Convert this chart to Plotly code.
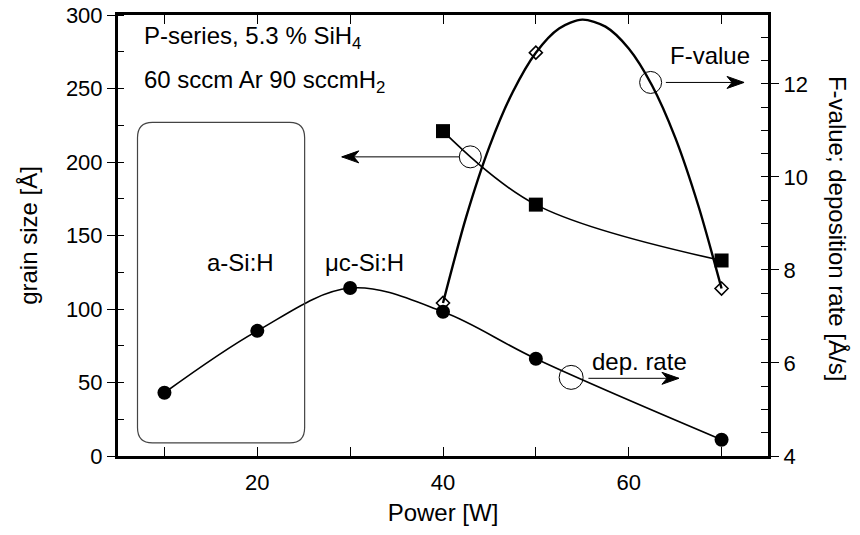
import plotly.graph_objects as go

# ---- data ----
power_dep = [10, 20, 30, 40, 50, 70]
dep_rate = [5.36, 6.69, 7.61, 7.10, 6.09, 4.35]          # right axis (Å/s)

power_grain = [40, 50, 70]
grain_size = [221, 171, 133]                              # left axis (Å)

power_f = [40, 50, 70]
f_value = [7.29, 12.67, 7.60]                             # right axis

# smooth F-value guide curve
power_f_curve = [40, 42.5, 45, 47.5, 50, 52.5, 55, 57.5, 60, 62.5, 65, 67.5, 70]
f_value_curve = [7.29, 9.14, 10.65, 11.82, 12.67, 13.19, 13.38, 13.23,
                 12.76, 11.97, 10.85, 9.38, 7.60]

x_tickvals = [20, 40, 60]
y_tickvals = [0, 50, 100, 150, 200, 250, 300]
y2_tickvals = [4, 6, 8, 10, 12]

FONT = "Liberation Sans, Arial, Helvetica, sans-serif"
BLACK = "#000000"

fig = go.Figure()

fig.add_trace(go.Scatter(
    x=power_dep, y=dep_rate, yaxis="y2", mode="lines+markers",
    line=dict(color=BLACK, width=1.6, shape="spline", smoothing=1.0),
    marker=dict(symbol="circle", size=14, color=BLACK),
    showlegend=False, name="dep. rate"))

fig.add_trace(go.Scatter(
    x=power_grain, y=grain_size, yaxis="y", mode="lines+markers",
    line=dict(color=BLACK, width=1.6, shape="spline", smoothing=1.0),
    marker=dict(symbol="square", size=14, color=BLACK),
    showlegend=False, name="grain size"))

fig.add_trace(go.Scatter(
    x=power_f_curve, y=f_value_curve, yaxis="y2", mode="lines",
    line=dict(color=BLACK, width=2.4, shape="spline", smoothing=0.8),
    showlegend=False, hoverinfo="skip", name="F-value fit"))
fig.add_trace(go.Scatter(
    x=power_f, y=f_value, yaxis="y2", mode="markers",
    marker=dict(symbol="diamond-open", size=10, color=BLACK,
                line=dict(color=BLACK, width=1.6)),
    showlegend=False, name="F-value"))

# rounded rectangle around the a-Si:H region
x0, x1, y0, y1 = 7.1, 25.1, 8.9, 227.0
rx, ry = 1.6, 10.5
path = (f"M {x0+rx},{y1} L {x1-rx},{y1} Q {x1},{y1} {x1},{y1-ry} "
        f"L {x1},{y0+ry} Q {x1},{y0} {x1-rx},{y0} "
        f"L {x0+rx},{y0} Q {x0},{y0} {x0},{y0+ry} "
        f"L {x0},{y1-ry} Q {x0},{y1} {x0+rx},{y1} Z")
shapes = [dict(type="path", path=path, xref="x", yref="y",
               line=dict(color="#444444", width=1.2))]

# hollow circles marking which axis a curve belongs to
for cx, cy, yr, d in [(42.94, 203.5, "y", 22), (62.36, 12.03, "y2", 22),
                      (53.8, 5.69, "y2", 24)]:
    shapes.append(dict(type="circle", xref="x", yref=yr,
                       xsizemode="pixel", ysizemode="pixel",
                       xanchor=cx, yanchor=cy,
                       x0=-d/2, x1=d/2, y0=-d/2, y1=d/2,
                       line=dict(color=BLACK, width=1)))

# arrows: (tail x, tip x, y, yref, direction)
for tail, tip, yy, yr, dirn in [(41.75, 29.1, 203.5, "y", -1),
                                (64.0, 72.42, 12.03, "y2", 1),
                                (55.66, 65.41, 5.67, "y2", 1)]:
    shapes.append(dict(type="line", xref="x", yref=yr, x0=tail, x1=tip,
                       y0=yy, y1=yy, line=dict(color=BLACK, width=1)))
    hx = -17 * dirn
    nx = -12 * dirn
    shapes.append(dict(type="path", xref="x", yref=yr,
                       xsizemode="pixel", ysizemode="pixel",
                       xanchor=tip, yanchor=yy,
                       path=f"M 0,0 L {hx},6 L {nx},0 L {hx},-6 Z",
                       fillcolor=BLACK, line=dict(color=BLACK, width=1)))

txt_font = dict(family=FONT, size=24, color=BLACK)
annotations = [
    dict(x=7.56, y=284.4, xref="x", yref="y", xanchor="left", yanchor="middle",
         text="P-series, 5.3 % SiH<sub>4</sub>", showarrow=False, font=txt_font),
    dict(x=7.56, y=255.0, xref="x", yref="y", xanchor="left", yanchor="middle",
         text="60 sccm Ar 90 sccmH<sub>2</sub>", showarrow=False, font=txt_font),
    dict(x=18.24, y=131.4, xref="x", yref="y", text="a-Si:H",
         showarrow=False, font=txt_font),
    dict(x=31.5, y=131.4, xref="x", yref="y", text="μc-Si:H",
         showarrow=False, font=txt_font),
    dict(x=68.7, y=12.6, xref="x", yref="y2", text="F-value",
         showarrow=False, font=txt_font),
    dict(x=61.17, y=6.04, xref="x", yref="y2", text="dep. rate",
         showarrow=False, font=txt_font),
    dict(x=1.13, y=0.515, xref="paper", yref="paper", text="F-value; deposition rate [Å/s]",
         textangle=90, showarrow=False, font=dict(family=FONT, size=24, color=BLACK)),
]

fig.update_layout(
    width=860, height=535,
    margin=dict(l=118, r=92, t=15, b=79),
    paper_bgcolor="white", plot_bgcolor="white",
    font=dict(family=FONT, size=22, color=BLACK),
    showlegend=False,
    shapes=shapes, annotations=annotations,
    xaxis=dict(range=[5, 75], tickvals=x_tickvals, automargin=False,
               ticks="inside", ticklen=9, tickwidth=1.2, tickcolor=BLACK,
               minor=dict(dtick=10, tick0=0, ticks="inside", ticklen=9, tickwidth=1.2,
                          tickcolor=BLACK, showgrid=False),
               showline=True, linewidth=3, linecolor=BLACK, mirror="ticks",
               showgrid=False, zeroline=False,
               tickfont=dict(size=22), ticklabelstandoff=5,
               title=dict(text="Power [W]", font=dict(size=24), standoff=10)),
    yaxis=dict(range=[0, 300], tickvals=y_tickvals, automargin=False,
               ticks="outside", ticklen=8, tickwidth=1.2, tickcolor=BLACK,
               minor=dict(dtick=25, ticks="inside", ticklen=6, tickwidth=1.2,
                          tickcolor=BLACK, showgrid=False),
               showline=True, linewidth=3, linecolor=BLACK, mirror=False,
               showgrid=False, zeroline=False, tickfont=dict(size=22),
               title=dict(text="grain size [Å]", font=dict(size=24), standoff=22)),
    yaxis2=dict(range=[4, 13.48], tickvals=y2_tickvals, overlaying="y", side="right",
                automargin=False,
                ticks="outside", ticklen=8, tickwidth=1.2, tickcolor=BLACK,
                minor=dict(dtick=0.5, ticks="inside", ticklen=7, tickwidth=1.2,
                           tickcolor=BLACK, showgrid=False),
                showline=True, linewidth=3, linecolor=BLACK,
                showgrid=False, zeroline=False, tickfont=dict(size=22)),
)

fig.write_html("out.html")
